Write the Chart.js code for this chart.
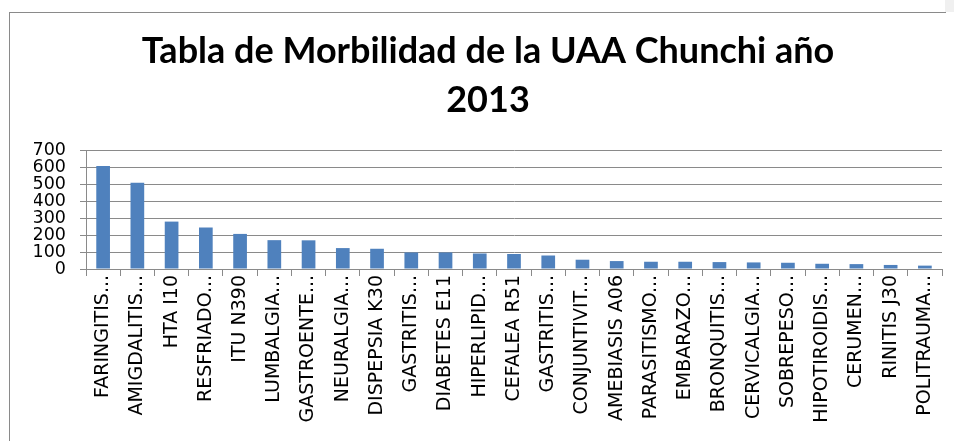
<!DOCTYPE html>
<html>
<head>
<meta charset="utf-8">
<script src="https://cdn.jsdelivr.net/npm/chart.js@4"></script>
<style>
  html, body { margin: 0; padding: 0; background: #fff; }
  #wrap { position: relative; width: 954px; height: 441px; overflow: hidden; }
  #frame {
    position: absolute; left: 9px; top: 12px; width: 936px; height: 440px;
    border-left: 1px solid #8a8a8a; border-top: 1px solid #8a8a8a;
  }
  #corner { position: absolute; left: 945px; top: 0; width: 9px; height: 12px; background: #f0f0f0; }
  canvas { position: absolute; left: 0; top: 0; }
</style>
</head>
<body>
<div id="wrap">
  <div id="frame"></div>
  <div id="corner"></div>
  <canvas id="morbChart" width="954" height="441"></canvas>
</div>
<script>
// categorias (tal como aparecen recortadas en el eje)
const diagnosticos = [
  "FARINGITIS...", "AMIGDALITIS...", "HTA I10", "RESFRIADO...", "ITU N390",
  "LUMBALGIA...", "GASTROENTE...", "NEURALGIA...", "DISPEPSIA K30", "GASTRITIS...",
  "DIABETES E11", "HIPERLIPID...", "CEFALEA R51", "GASTRITIS...", "CONJUNTIVIT...",
  "AMEBIASIS A06", "PARASITISMO...", "EMBARAZO...", "BRONQUITIS...", "CERVICALGIA...",
  "SOBREPESO...", "HIPOTIROIDIS...", "CERUMEN...", "RINITIS J30", "POLITRAUMA..."
];
const casos = [
  611, 511, 281, 246, 208,
  171, 170, 124, 120, 98,
  98, 92, 89, 80, 55,
  47, 43, 43, 41, 39,
  37, 31, 29, 24, 20
];
const yMax = 700;
const yStep = 100;
const tituloLineas = ["Tabla de Morbilidad de la UAA Chunchi año", "2013"];

const gris = "#8a8a8a";

const ctx = document.getElementById("morbChart").getContext("2d");
new Chart(ctx, {
  type: "bar",
  data: {
    labels: diagnosticos,
    datasets: [
      {
        data: casos,
        backgroundColor: "#4F81BD",
        borderWidth: 0,
        barPercentage: 0.4,
        categoryPercentage: 1.0,
      },
    ],
  },
  options: {
    responsive: false,
    animation: false,
    layout: { padding: { left: 34, right: 12, top: 27, bottom: 0 } },
    plugins: {
      legend: { display: false },
      tooltip: { enabled: false },
      title: {
        display: true,
        text: tituloLineas,
        color: "#000",
        font: { family: "Lato", size: 36, weight: "bold", lineHeight: 1.36 },
        padding: { top: 0, bottom: 26 },
      },
    },
    scales: {
      y: {
        min: 0,
        max: yMax,
        afterFit: (scale) => { scale.width = 52; },
        ticks: {
          stepSize: yStep,
          autoSkip: false,
          color: "#000",
          font: { family: "DejaVu Sans", size: 17.5, lineHeight: 1.0 },
          padding: 14,
        },
        grid: { color: gris, lineWidth: 1, tickLength: 6 },
        border: { color: gris },
      },
      x: {
        afterFit: (scale) => { scale.height = 172; },
        ticks: {
          autoSkip: false,
          minRotation: 90,
          maxRotation: 90,
          color: "#000",
          font: { family: "DejaVu Sans", size: 19 },
          padding: -1,
        },
        grid: { drawOnChartArea: false, color: gris, tickLength: 7, offset: true },
        border: { color: gris },
      },
    },
  },
});
</script>
</body>
</html>
